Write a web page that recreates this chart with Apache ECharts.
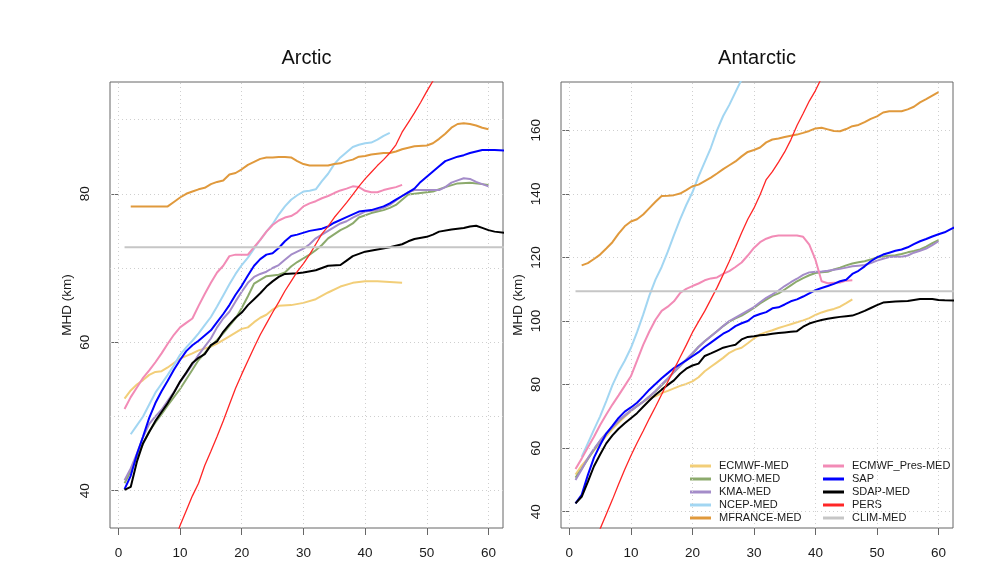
<!DOCTYPE html>
<html>
<head>
<meta charset="utf-8">
<script src="https://cdn.jsdelivr.net/npm/echarts@6/dist/echarts.min.js"></script>
<style>
  html, body { margin: 0; padding: 0; background: #ffffff; }
  #chart { width: 999px; height: 586px; }
</style>
</head>
<body>
<div id="chart"></div>
<script>
// Mean hindcast distance (km) by forecast day, Arctic and Antarctic panels.
// Each series is a list of [day, MHD] pairs.

const seriesNames = ['ECMWF-MED', 'UKMO-MED', 'KMA-MED', 'NCEP-MED', 'MFRANCE-MED',
                     'ECMWF_Pres-MED', 'SAP', 'SDAP-MED', 'PERS', 'CLIM-MED'];
const xTicks = [0, 10, 20, 30, 40, 50, 60];
const arcticYTicks = [40, 60, 80];
const arcticYGrid = [40, 50, 60, 70, 80, 90];
const antarcticYTicks = [40, 60, 80, 100, 120, 140, 160];

// ---- Arctic ----
const arcticECMWF = [[1,52.4],[2,53.5],[3,54.3],[4,54.9],[5,55.6],[6,56.0],[7,56.1],[8,56.6],[10,57.8],[12,58.5],[13,58.9],[15,59.4],[16,59.8],[18,60.8],[20,61.8],[21,62.0],[22,62.7],[23,63.3],[24,63.7],[25,64.4],[26,64.9],[28,65.0],[30,65.3],[32,65.8],[34,66.7],[36,67.5],[38,68.0],[40,68.2],[42,68.2],[44,68.1],[46,68.0]];
const arcticUKMO = [[1,41.0],[2,42.6],[3,44.6],[4,46.3],[5,48.0],[6,49.2],[7,50.3],[8,51.5],[10,53.7],[12,56.3],[13,57.6],[15,59.5],[16,60.3],[17,61.2],[18,62.2],[19,63.2],[20,64.6],[21,66.2],[22,67.9],[23,68.4],[24,68.9],[26,69.1],[27,69.4],[28,70.2],[29,70.8],[31,71.8],[32,72.4],[33,73.1],[34,74.0],[36,75.1],[37,75.5],[38,76.0],[39,76.8],[41,77.4],[43,77.8],[44,78.1],[45,78.5],[46,79.2],[47,79.9],[49,80.1],[51,80.3],[53,80.9],[55,81.4],[57,81.5],[59,81.3],[60,81.2]];
const arcticKMA = [[1,41.4],[2,43.0],[3,45.0],[4,47.2],[5,49.0],[6,50.0],[7,50.9],[8,52.1],[9,53.3],[10,54.6],[11,55.8],[12,57.0],[13,58.3],[14,59.4],[15,60.5],[16,62.0],[17,63.2],[18,64.1],[19,65.5],[20,66.8],[21,68.0],[22,68.8],[23,69.2],[24,69.5],[25,70.0],[26,70.4],[27,71.1],[28,71.8],[29,72.2],[30,72.6],[31,73.2],[32,74.0],[33,74.5],[34,75.0],[35,75.5],[36,76.0],[37,76.3],[38,76.8],[39,77.2],[40,77.6],[42,77.8],[43,78.1],[44,78.5],[45,79.1],[46,79.7],[47,80.2],[48,80.5],[50,80.5],[52,80.5],[53,80.9],[54,81.5],[55,81.8],[56,82.1],[57,82.0],[58,81.6],[59,81.3],[60,81.0]];
const arcticNCEP = [[2,47.6],[3,48.8],[4,50.0],[5,51.6],[6,53.2],[7,54.4],[8,55.6],[9,56.9],[10,58.3],[11,59.3],[12,60.2],[13,61.2],[14,62.3],[15,63.4],[16,64.8],[17,66.3],[18,67.8],[19,69.2],[20,70.4],[21,71.4],[22,72.6],[23,73.8],[24,74.9],[25,75.9],[26,77.2],[27,78.3],[28,79.2],[29,79.8],[30,80.3],[31,80.4],[32,80.6],[33,81.7],[34,82.7],[35,84.0],[36,84.9],[37,85.6],[38,86.3],[39,86.6],[40,86.8],[41,86.9],[42,87.3],[43,87.8],[44,88.2]];
const arcticMFRANCE = [[2,78.3],[3,78.3],[4,78.3],[5,78.3],[6,78.3],[7,78.3],[8,78.3],[9,78.9],[10,79.5],[11,80.0],[12,80.3],[13,80.6],[14,80.8],[15,81.3],[16,81.6],[17,81.8],[18,82.6],[19,82.8],[20,83.3],[21,83.9],[22,84.3],[23,84.7],[24,84.9],[25,84.9],[26,84.95],[27,84.95],[28,84.9],[29,84.4],[30,84.0],[31,83.8],[33,83.8],[34,83.8],[35,84.0],[36,84.1],[37,84.4],[38,84.6],[39,85.0],[40,85.1],[41,85.3],[43,85.5],[44,85.5],[45,85.7],[46,86.0],[47,86.2],[48,86.4],[50,86.5],[51,86.8],[52,87.4],[53,88.1],[54,88.9],[55,89.4],[56,89.5],[57,89.4],[58,89.2],[59,88.9],[60,88.7]];
const arcticECMWFPres = [[1,51.0],[2,52.6],[3,53.9],[4,55.2],[5,56.2],[6,57.3],[7,58.5],[8,59.8],[9,61.0],[10,62.0],[11,62.6],[12,63.2],[13,64.9],[14,66.5],[15,68.0],[16,69.4],[17,70.3],[18,71.6],[19,71.8],[20,71.8],[21,71.8],[22,72.8],[23,73.8],[24,74.9],[25,75.8],[26,76.4],[27,76.8],[28,77.0],[29,77.5],[30,78.3],[31,78.7],[32,79.0],[33,79.4],[34,79.7],[35,80.1],[36,80.45],[37,80.7],[38,81.0],[39,80.9],[40,80.4],[41,80.2],[42,80.2],[43,80.5],[44,80.7],[45,80.9],[46,81.2]];
const arcticSAP = [[1,40.2],[2,42.0],[3,44.9],[4,47.3],[5,49.8],[6,51.8],[7,53.4],[8,54.8],[9,56.3],[10,57.6],[11,58.8],[12,59.6],[13,60.2],[14,60.9],[15,61.6],[16,62.7],[17,63.8],[18,65.0],[19,66.4],[20,67.6],[21,69.0],[22,70.3],[23,71.2],[24,71.8],[25,72.0],[26,72.7],[27,73.6],[28,74.3],[29,74.5],[31,75.0],[33,75.3],[34,75.6],[35,76.1],[37,76.85],[39,77.6],[41,77.8],[43,78.3],[44,78.7],[45,79.2],[46,79.7],[47,80.2],[48,80.7],[49,81.6],[50,82.3],[51,83.0],[52,83.7],[53,84.4],[54,84.7],[55,85.0],[56,85.2],[57,85.5],[58,85.7],[59,85.9],[61,85.9],[63,85.8]];
const arcticSDAP = [[1,40.1],[2,40.5],[3,43.9],[4,46.4],[5,47.9],[6,49.4],[7,50.6],[8,51.8],[9,53.2],[10,54.7],[11,55.9],[12,57.2],[13,57.9],[14,58.4],[15,59.6],[16,60.1],[17,61.4],[18,62.4],[19,63.3],[20,64.0],[21,65.0],[22,65.8],[23,66.6],[24,67.5],[25,68.2],[26,68.8],[27,69.2],[29,69.3],[30,69.4],[32,69.7],[33,70.0],[34,70.3],[36,70.4],[37,71.0],[38,71.6],[40,72.2],[42,72.5],[44,72.8],[46,73.2],[47,73.6],[48,73.9],[50,74.2],[51,74.5],[52,74.9],[54,75.2],[56,75.4],[57,75.6],[58,75.7],[59,75.4],[60,75.1],[61,74.9],[63,74.7]];
const arcticPERS = [[9,33.0],[10,35.3],[11,37.3],[12,39.3],[13,41.0],[14,43.4],[15,45.3],[16,47.3],[17,49.4],[18,51.6],[19,53.8],[20,55.7],[21,57.5],[22,59.3],[23,61.0],[24,62.5],[25,64.0],[26,65.4],[27,66.9],[28,68.2],[29,69.5],[30,70.6],[31,71.8],[32,73.2],[33,74.6],[34,75.6],[35,76.8],[36,77.8],[37,78.8],[38,79.9],[39,81.0],[40,82.0],[41,82.9],[42,83.8],[43,84.6],[44,85.5],[45,86.6],[46,88.3],[47,89.6],[48,90.9],[49,92.3],[50,93.8],[51,95.2],[52,96.6]];
const arcticCLIM = [[1,72.8],[63,72.8]];

// ---- Antarctic ----
const antarcticECMWF = [[1,51.7],[2,54.5],[3,56.8],[4,59.3],[5,61.6],[6,63.8],[7,66.0],[8,68.0],[9,69.9],[10,71.6],[11,73.3],[12,74.6],[13,75.8],[14,76.3],[15,77.3],[16,78.0],[17,78.8],[18,79.6],[19,80.2],[20,81.0],[21,82.3],[22,84.2],[23,85.6],[24,87.0],[25,88.4],[26,90.0],[27,91.0],[28,91.6],[29,93.0],[30,94.5],[31,95.8],[32,96.5],[33,97.1],[34,97.8],[35,98.4],[36,99.0],[37,99.6],[38,100.2],[39,100.9],[40,101.9],[41,102.7],[42,103.3],[43,103.8],[44,104.5],[45,105.6],[46,106.8]];
const antarcticUKMO = [[1,50.7],[2,53.5],[3,56.5],[4,59.5],[5,62.2],[6,64.5],[7,66.6],[8,68.5],[9,70.2],[10,71.8],[11,73.2],[12,74.6],[13,76.2],[14,77.9],[15,79.8],[16,81.8],[17,83.9],[18,85.8],[19,87.7],[20,89.7],[21,91.9],[22,93.6],[23,95.2],[24,96.8],[25,98.4],[26,99.8],[27,100.8],[28,101.7],[29,102.9],[30,104.1],[31,105.5],[32,106.7],[33,107.9],[34,108.7],[35,109.9],[36,111.2],[37,112.5],[38,113.5],[39,114.4],[40,115.1],[41,115.3],[42,115.5],[43,116.2],[44,116.8],[45,117.5],[46,118.1],[47,118.5],[48,118.8],[49,119.4],[50,120.0],[51,120.3],[52,120.5],[53,120.7],[54,121.1],[55,121.6],[56,122.0],[57,122.5],[58,123.4],[59,124.5],[60,125.4]];
const antarcticKMA = [[1,50.0],[2,53.3],[3,56.8],[4,59.8],[5,62.4],[6,64.7],[7,66.6],[8,68.6],[9,70.3],[10,71.8],[11,73.2],[12,74.6],[13,76.2],[14,78.0],[15,80.0],[16,81.9],[17,84.0],[18,85.9],[19,87.9],[20,89.9],[21,91.8],[22,93.6],[23,95.2],[24,96.8],[25,98.4],[26,100.0],[27,101.1],[28,102.2],[29,103.3],[30,104.4],[31,105.9],[32,107.3],[33,108.4],[34,109.6],[35,111.0],[36,112.2],[37,113.3],[38,114.5],[39,115.3],[40,115.5],[41,115.6],[42,115.8],[43,116.1],[44,116.4],[45,116.8],[46,117.2],[47,117.4],[48,117.6],[49,118.2],[50,119.0],[51,119.6],[52,120.1],[53,120.2],[54,120.2],[55,120.6],[56,121.5],[57,122.1],[58,122.8],[59,123.9],[60,125.1]];
const antarcticNCEP = [[2,57.2],[3,61.5],[4,65.8],[5,70.0],[6,74.8],[7,79.8],[8,84.0],[9,87.5],[10,91.5],[11,96.5],[12,102.0],[13,108.0],[14,113.0],[15,117.0],[16,121.8],[17,127.0],[18,132.0],[19,136.5],[20,140.5],[21,145.5],[22,150.0],[23,154.5],[24,160.0],[25,164.5],[26,168.0],[27,172.0],[28,176.0],[29,180.0]];
const antarcticMFRANCE = [[2,117.5],[3,118.2],[4,119.5],[5,120.9],[6,122.8],[7,124.8],[8,127.5],[9,129.8],[10,131.3],[11,132.0],[12,133.5],[13,135.5],[14,137.5],[15,139.3],[16,139.4],[17,139.6],[18,140.1],[19,141.2],[20,142.4],[21,142.9],[22,144.0],[23,145.1],[24,146.4],[25,147.8],[26,149.0],[27,150.2],[28,151.8],[29,153.2],[30,153.8],[31,154.6],[32,156.2],[33,157.1],[34,157.4],[35,157.9],[36,158.3],[37,158.65],[38,159.2],[39,159.8],[40,160.6],[41,160.8],[42,160.3],[43,159.8],[44,159.7],[45,160.4],[46,161.3],[47,161.7],[48,162.6],[49,163.6],[50,164.4],[51,165.6],[52,166.0],[53,166.0],[54,166.0],[55,166.6],[56,167.4],[57,168.8],[58,169.8],[59,170.9],[60,172.0]];
const antarcticECMWFPres = [[1,53.4],[2,56.7],[3,60.2],[4,63.6],[5,67.3],[6,70.6],[7,73.7],[8,76.6],[9,79.6],[10,82.6],[11,87.5],[12,92.5],[13,96.7],[14,100.4],[15,103.2],[16,104.5],[17,106.2],[18,108.8],[19,110.1],[20,111.0],[21,111.8],[22,112.8],[23,113.4],[24,113.7],[25,114.8],[26,115.7],[27,117.0],[28,118.4],[29,120.6],[30,123.0],[31,124.8],[32,125.9],[33,126.6],[34,126.9],[35,126.9],[36,126.9],[37,126.9],[38,126.5],[39,124.0],[40,119.3],[41,112.5],[42,111.9],[43,112.0],[44,112.1],[45,112.7],[46,112.8]];
const antarcticSAP = [[1,42.6],[2,45.3],[3,51.5],[4,57.0],[5,61.0],[6,64.6],[7,67.0],[8,69.5],[9,71.5],[10,72.8],[11,74.3],[12,76.3],[13,78.4],[14,80.2],[15,82.0],[16,83.6],[17,85.2],[18,86.4],[19,87.6],[20,88.9],[21,90.2],[22,91.8],[23,93.2],[24,94.6],[25,96.0],[26,97.0],[27,98.4],[28,99.3],[29,100.0],[30,101.5],[31,102.2],[32,102.8],[33,104.0],[34,104.3],[35,105.2],[36,106.2],[37,106.8],[38,107.7],[39,108.7],[40,109.7],[41,110.4],[42,111.0],[43,111.7],[44,112.5],[45,113.0],[46,114.8],[47,115.8],[48,117.2],[49,118.8],[50,120.0],[51,120.9],[52,121.5],[53,122.1],[54,122.5],[55,123.2],[56,124.2],[57,125.1],[58,125.8],[59,126.6],[60,127.3],[61,127.9],[62,128.9],[63,129.8]];
const antarcticSDAP = [[1,42.6],[2,44.7],[3,49.4],[4,54.3],[5,58.0],[6,61.5],[7,64.0],[8,66.1],[9,67.8],[10,69.4],[11,71.0],[12,73.0],[13,75.0],[14,76.8],[15,78.4],[16,79.9],[17,81.3],[18,83.4],[19,85.0],[20,86.0],[21,86.6],[22,89.0],[23,89.8],[24,90.7],[25,91.6],[26,92.1],[27,92.5],[28,94.2],[29,95.0],[30,95.2],[31,95.5],[32,95.7],[33,96.0],[34,96.2],[35,96.4],[36,96.6],[37,96.8],[38,98.2],[39,99.2],[40,99.8],[41,100.3],[42,100.7],[43,101.0],[44,101.3],[45,101.5],[46,101.7],[47,102.4],[48,103.2],[49,104.1],[50,105.0],[51,105.8],[52,106.0],[53,106.1],[54,106.2],[55,106.3],[56,106.6],[57,106.9],[58,106.9],[59,106.9],[60,106.6],[61,106.5],[63,106.4]];
const antarcticPERS = [[4,29.5],[5,34.6],[6,39.2],[7,43.8],[8,48.6],[9,53.3],[10,57.6],[11,61.6],[12,65.4],[13,69.3],[14,73.0],[15,76.9],[16,80.9],[17,84.7],[18,88.6],[19,92.4],[20,96.4],[21,99.8],[22,103.1],[23,106.8],[24,110.5],[25,114.6],[26,118.8],[27,123.2],[28,127.8],[29,132.0],[30,135.5],[31,139.7],[32,144.5],[33,147.0],[34,150.0],[35,153.2],[36,157.0],[37,161.5],[38,165.3],[39,169.2],[40,172.5],[41,176.5],[42,180.0]];
const antarcticCLIM = [[1,109.35],[63,109.35]];

const arcticData = [arcticECMWF, arcticUKMO, arcticKMA, arcticNCEP, arcticMFRANCE,
                    arcticECMWFPres, arcticSAP, arcticSDAP, arcticPERS, arcticCLIM];
const antarcticData = [antarcticECMWF, antarcticUKMO, antarcticKMA, antarcticNCEP, antarcticMFRANCE,
                       antarcticECMWFPres, antarcticSAP, antarcticSDAP, antarcticPERS, antarcticCLIM];

const colors = {
  'ECMWF-MED': '#F2CE78',
  'UKMO-MED': '#8CAA6C',
  'KMA-MED': '#A48CC9',
  'NCEP-MED': '#A2D6F2',
  'MFRANCE-MED': '#E0993C',
  'ECMWF_Pres-MED': '#F28BB6',
  'SAP': '#0000FF',
  'SDAP-MED': '#000000',
  'PERS': '#FF2626',
  'CLIM-MED': '#C6C6C6'
};

const FONT = '"Liberation Sans", Arial, Helvetica, sans-serif';
const TEXT = '#1a1a1a';
const FRAME = '#666666';

function makeX(idx) {
  return {
    gridIndex: idx, type: 'value', min: -1.36, max: 62.36,
    axisLine: { show: false },
    axisTick: { show: true, length: 7, inside: false, customValues: xTicks,
                lineStyle: { color: FRAME, width: 1 } },
    axisLabel: { customValues: xTicks, margin: 18, fontSize: 13.5, color: TEXT, fontFamily: FONT },
    splitLine: { show: false }
  };
}

function makeY(idx, min, max, ticks) {
  return {
    gridIndex: idx, type: 'value', min: min, max: max,
    name: 'MHD (km)', nameLocation: 'middle', nameGap: 36, nameRotate: 90,
    nameTextStyle: { fontSize: 13.5, color: TEXT, fontFamily: FONT },
    axisLine: { show: false },
    axisTick: { show: true, length: 7, inside: false, customValues: ticks,
                lineStyle: { color: FRAME, width: 1 } },
    axisLabel: { customValues: ticks, rotate: 90, margin: 18, fontSize: 13.5, color: TEXT, fontFamily: FONT },
    splitLine: { show: false }
  };
}

function gridLines(idx, xs, ys) {
  return {
    type: 'line', xAxisIndex: idx, yAxisIndex: idx, data: [], z: 1, silent: true,
    markLine: {
      silent: true, symbol: ['none', 'none'], animation: false,
      label: { show: false },
      lineStyle: { type: [1, 3], color: '#cfcfcf', width: 1 },
      emphasis: { disabled: true },
      data: xs.map(v => ({ xAxis: v })).concat(ys.map(v => ({ yAxis: v })))
    }
  };
}

function panelSeries(idx, dataList) {
  return seriesNames.map((name, i) => ({
    name: name, type: 'line', xAxisIndex: idx, yAxisIndex: idx,
    data: dataList[i], showSymbol: false, symbol: 'none', clip: true,
    z: 2 + i, animation: false,
    lineStyle: { color: colors[name], width: name === 'PERS' ? 1.3 : 2 },
    itemStyle: { color: colors[name] },
    emphasis: { disabled: true }
  }));
}

const chart = echarts.init(document.getElementById('chart'), null, { renderer: 'canvas' });

const legendCommon = {
  orient: 'vertical', top: 459.5, padding: 0, itemGap: 0,
  itemWidth: 21, itemHeight: 3, icon: 'rect', selectedMode: false,
  textStyle: { fontSize: 11, color: TEXT, fontFamily: FONT, lineHeight: 13, padding: [0, 0, 0, 3] }
};

chart.setOption({
  backgroundColor: '#ffffff',
  animation: false,
  title: [
    { text: 'Arctic', left: 306.5, top: 48, textAlign: 'center', padding: 0,
      textStyle: { fontSize: 20, fontWeight: 'normal', color: '#111', fontFamily: FONT } },
    { text: 'Antarctic', left: 757, top: 48, textAlign: 'center', padding: 0,
      textStyle: { fontSize: 20, fontWeight: 'normal', color: '#111', fontFamily: FONT } }
  ],
  legend: [
    Object.assign({ left: 690, data: seriesNames.slice(0, 5) }, legendCommon),
    Object.assign({ left: 823, data: seriesNames.slice(5) }, legendCommon)
  ],
  grid: [
    { left: 110, top: 82, width: 393, height: 446, show: true, borderColor: FRAME, borderWidth: 1, backgroundColor: 'transparent' },
    { left: 561, top: 82, width: 392, height: 446, show: true, borderColor: FRAME, borderWidth: 1, backgroundColor: 'transparent' }
  ],
  xAxis: [makeX(0), makeX(1)],
  yAxis: [makeY(0, 34.97, 95.06, arcticYTicks), makeY(1, 34.87, 175.2, antarcticYTicks)],
  series: [gridLines(0, xTicks, arcticYGrid), gridLines(1, xTicks, antarcticYTicks)]
    .concat(panelSeries(0, arcticData))
    .concat(panelSeries(1, antarcticData))
});
</script>
</body>
</html>
